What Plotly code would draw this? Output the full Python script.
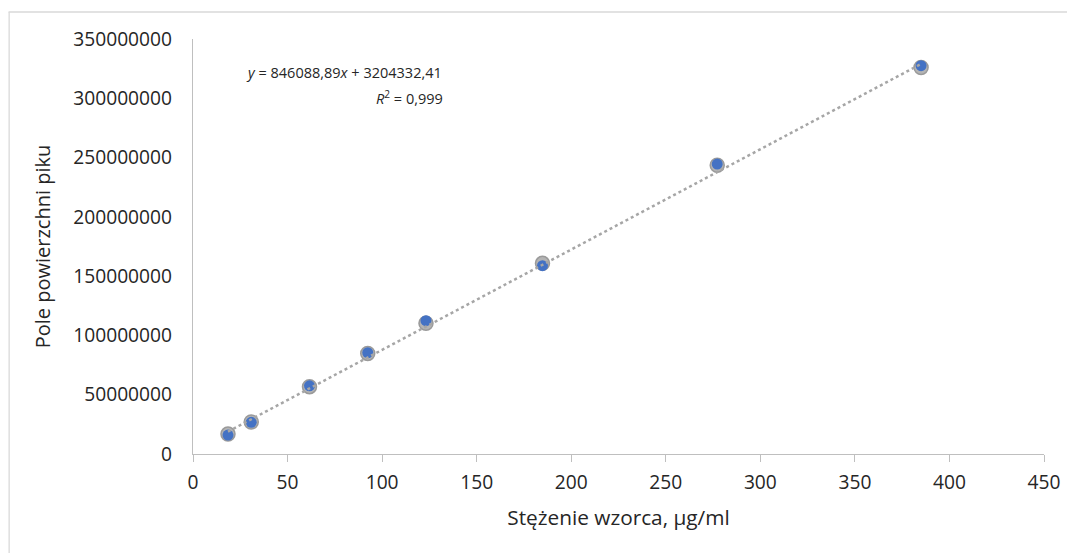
import plotly.graph_objects as go

conc = [18.5, 30.8, 61.6, 92.4, 123.2, 184.8, 277.2, 385.0]
area_a = [16.8e6, 27.0e6, 56.8e6, 84.8e6, 110.2e6, 160.8e6, 243.5e6, 326.0e6]
area_b = [16.0e6, 26.7e6, 57.5e6, 85.4e6, 112.4e6, 158.8e6, 244.5e6, 327.5e6]
slope = 846088.89
intercept = 3204332.41
x_ticks = [0, 50, 100, 150, 200, 250, 300, 350, 400, 450]
y_ticks = [0, 50e6, 100e6, 150e6, 200e6, 250e6, 300e6, 350e6]
y_tick_text = ["0", "50000000", "100000000", "150000000", "200000000",
               "250000000", "300000000", "350000000"]

font = "Open Sans, Noto Sans, sans-serif"
fig = go.Figure()
fig.add_trace(go.Scatter(x=conc, y=area_a, mode="markers",
                         marker=dict(size=14, color="#b4b4b4",
                                     line=dict(color="#9a9a9a", width=1.5)),
                         showlegend=False, hoverinfo="skip"))
fig.add_trace(go.Scatter(x=conc, y=area_b, mode="markers",
                         marker=dict(size=11, color="#4472c4",
                                     line=dict(width=0)),
                         showlegend=False))
tx = [conc[0], conc[-1]]
ty = [slope * v + intercept for v in tx]
fig.add_trace(go.Scatter(x=tx, y=ty, mode="lines",
                         line=dict(color="#a6a6a6", width=2.5, dash="dot"),
                         showlegend=False, hoverinfo="skip"))

# page adds an 8px body margin, so figure coords = reference coords - 8
OFF = 8
FW, FH = 1075 - OFF, 553 - OFF
L, T = 192.5 - OFF, 39 - OFF
R = FW - (1043.7 - OFF)
B = FH - (454 - OFF)
W, H = FW - L - R, FH - T - B


def px(x):
    return (x - OFF - L) / W


def py(y):
    return 1 - (y - OFF - T) / H


ann_font = dict(size=14.5, family=font)

fig.update_layout(
    width=FW, height=FH,
    margin=dict(l=L, r=R, t=T, b=B, autoexpand=False),
    paper_bgcolor="white", plot_bgcolor="white",
    font=dict(family=font, size=19.2, color="#262626"),
    xaxis=dict(range=[0, 450], tickvals=x_ticks, showgrid=False, zeroline=False,
               showline=True, linecolor="#bfbfbf", linewidth=1.3,
               ticks="outside", ticklen=7, tickcolor="#bfbfbf",
               ticklabelstandoff=4, automargin=False,
               title=dict(text="Stężenie wzorca, µg/ml", standoff=16,
                          font=dict(size=20.8))),
    yaxis=dict(range=[0, 350e6], tickvals=y_ticks, ticktext=y_tick_text,
               showgrid=False, zeroline=False,
               showline=True, linecolor="#bfbfbf", linewidth=1.3,
               ticks="", ticklabelstandoff=16, automargin=False,
               title=dict(text="Pole powierzchni piku", standoff=17,
                          font=dict(size=20))),
    shapes=[
        dict(type="line", xref="paper", yref="paper",
             x0=px(8), x1=px(1080), y0=py(12), y1=py(12),
             line=dict(color="#d9d9d9", width=1.3)),
        dict(type="line", xref="paper", yref="paper",
             x0=px(8.6), x1=px(8.6), y0=py(12), y1=py(560),
             line=dict(color="#d9d9d9", width=1.3)),
    ],
    annotations=[
        dict(x=px(244), y=py(72), xref="paper", yref="paper",
             showarrow=False,
             text="<i>y</i> = 846088,89<i>x</i> + 3204332,41",
             font=ann_font, xanchor="left", yanchor="middle"),
        dict(x=px(445), y=py(98), xref="paper", yref="paper",
             showarrow=False,
             text="<i>R</i><sup>2</sup> = 0,999",
             font=ann_font, xanchor="right", yanchor="middle"),
    ],
)

fig.write_html("out.html")
